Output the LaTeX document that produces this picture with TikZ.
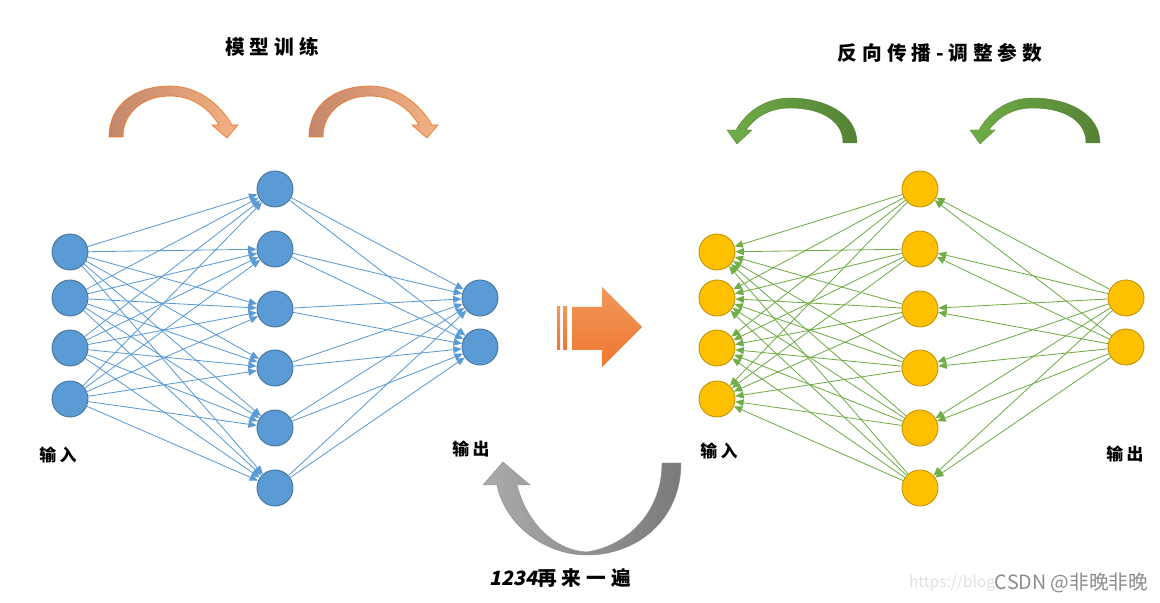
\documentclass[tikz,border=0pt]{standalone}
\usepackage{fontspec}
\setmainfont{Noto Sans CJK SC}
\usetikzlibrary{arrows.meta}

\definecolor{nnblue}{HTML}{5B9BD5}
\definecolor{nnblueline}{HTML}{41719C}
\definecolor{nnyellow}{HTML}{FFC000}
\definecolor{nnyellowline}{HTML}{BF9000}
\definecolor{nngreen}{HTML}{70AD47}
\definecolor{nngreendark}{HTML}{548235}
\definecolor{nnorange}{HTML}{ED7D31}
\definecolor{nnsalmon}{HTML}{F4B183}
\definecolor{nnbrown}{HTML}{C4866A}

\begin{document}
\begin{tikzpicture}[
    x=0.025cm, y=-0.025cm,
    neuronL/.style={circle,draw=nnblueline,fill=nnblue,line width=0.6pt,minimum size=0.9cm,inner sep=0pt},
    neuronR/.style={circle,draw=nnyellowline,fill=nnyellow,line width=0.6pt,minimum size=0.9cm,inner sep=0pt},
    edgeL/.style={draw=nnblue,line width=0.6pt,-{Triangle[length=6pt,width=5pt]}},
    edgeR/.style={draw=nngreen,line width=0.6pt,-{Triangle[length=6pt,width=5pt]}},
    label/.style={font=\bfseries\fontsize{12}{14}\selectfont\addfontfeature{LetterSpace=20}},
    title/.style={font=\bfseries\fontsize{14}{16}\selectfont\addfontfeature{LetterSpace=25}},
    orangearc/.style={left color=nnbrown,right color=nnsalmon,draw=nnorange,line width=0.5pt},
    greenarc/.style={left color=nngreen,right color=nngreendark,draw=nngreen!80!black,line width=0.3pt},
    greyarc/.style={left color=black!33,right color=black!52,draw=black!45,line width=0.3pt},
    bigarrow/.style={top color=nnorange!80!white,bottom color=nnorange!95!red}
]
    \useasboundingbox (0,0) rectangle (1160,603);

    % left network: forward pass
    \foreach \i/\y in {1/252,2/298,3/348,4/399}
        \node[neuronL] (a\i) at (70,\y) {};
    \foreach \j/\y in {1/189,2/249,3/309,4/368,5/428,6/488}
        \node[neuronL] (b\j) at (275,\y) {};
    \foreach \k/\y in {1/298,2/347}
        \node[neuronL] (c\k) at (480,\y) {};

    \foreach \i in {1,...,4}
        \foreach \j in {1,...,6}
            \draw[edgeL] (a\i) -- (b\j);
    \foreach \j in {1,...,6}
        \foreach \k in {1,2}
            \draw[edgeL] (b\j) -- (c\k);

    % right network: backward pass
    \foreach \i/\y in {1/252,2/298,3/348,4/399}
        \node[neuronR] (p\i) at (717,\y) {};
    \foreach \j/\y in {1/189,2/249,3/309,4/368,5/428,6/488}
        \node[neuronR] (q\j) at (920,\y) {};
    \foreach \k/\y in {1/298,2/347}
        \node[neuronR] (r\k) at (1126,\y) {};

    \foreach \i in {1,...,4}
        \foreach \j in {1,...,6}
            \draw[edgeR] (q\j) -- (p\i);
    \foreach \j in {1,...,6}
        \foreach \k in {1,2}
            \draw[edgeR] (r\k) -- (q\j);

    % labels
    \node[title] (train) at (272,47) {模型训练};
    \node[title] (back) at (940,53) {反向传播-调整参数};
    \node[label] (inL) at (58,455) {输入};
    \node[label] (outL) at (471,449) {输出};
    \node[label] (inR) at (719,451) {输入};
    \node[label] (outR) at (1125,454) {输出};
    \node[title] (again) at (560,578) {{\addfontfeature{FakeSlant=0.2,LetterSpace=0}1234}再来一遍};

    % curved arrows
    \foreach \dx in {0,200}
        \shadedraw[orangearc,xshift=\dx*0.025cm]
            (109,137) .. controls (109,104) and (136,86) .. (170,86)
            .. controls (198,86) and (220,104) .. (232,125)
            -- (238,125) -- (227,138) -- (212,125) -- (219,125)
            .. controls (208,107) and (191,96) .. (170,96)
            .. controls (144,96) and (123,112) .. (123,137) -- cycle;
    \foreach \dx in {0,243}
        \shadedraw[greenarc,xshift=\dx*0.025cm]
            (857,143) .. controls (857,114) and (825,98) .. (790,98)
            .. controls (765,98) and (746,112) .. (736,130)
            -- (727,130) -- (737,144) -- (752,130) -- (746,130)
            .. controls (756,116) and (771,108) .. (790,108)
            .. controls (820,108) and (843,120) .. (843,143) -- cycle;
    \shadedraw[greyarc]
        (681,463) .. controls (681,520) and (637,555) .. (587,555)
        .. controls (545,555) and (505,525) .. (497,485)
        -- (483,485) -- (503,462) -- (530,485) -- (517,485)
        .. controls (527,525) and (557,551) .. (587,552)
        .. controls (630,545) and (662,510) .. (662,463) -- cycle;

    % big arrow between the networks
    \shade[bigarrow]
        (572,307) -- (602,307) -- (602,287) -- (642,327) -- (602,367) -- (602,350) -- (572,350) -- cycle;
    \shade[bigarrow] (557,307) rectangle (560,350);
    \shade[bigarrow] (563,307) rectangle (567,350);

    % watermark
    \node[text=black!12,font=\fontsize{11}{13}\selectfont,anchor=east] (url) at (1000,583) {https://blog};
    \node[text=black!45,font=\fontsize{14}{16}\selectfont,anchor=west] (mark) at (990,583) {CSDN @非晚非晚};
\end{tikzpicture}
\end{document}
